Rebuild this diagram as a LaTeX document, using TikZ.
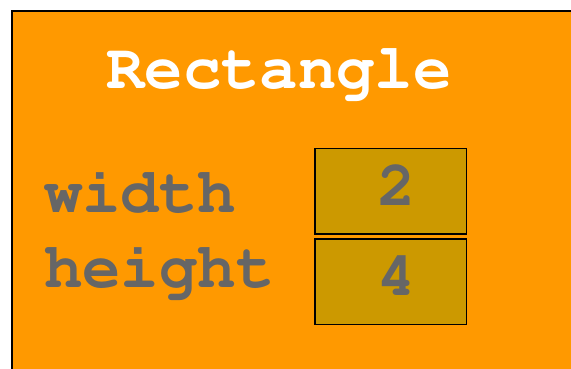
\documentclass[tikz,border=0pt]{standalone}
\usepackage[T1]{fontenc}
\usepackage{fontspec}
\newcommand\crbf{\fontencoding{T1}\fontfamily{pcr}\fontseries{b}\fontshape{n}\fontsize{64}{64}\selectfont}
\definecolor{bgorange}{HTML}{FF9900}
\definecolor{boxgold}{HTML}{CC9900}
\definecolor{txtgray}{HTML}{666666}
\begin{document}
\begin{tikzpicture}[x=1pt,y=-1pt,
  lbl/.style={font=\crbf, inner sep=0pt, anchor=base west},
  valbox/.style={draw=black, line width=1.5pt, fill=boxgold, minimum width=151.5pt, minimum height=85.5pt, inner sep=0pt, anchor=north west},
  valtxt/.style={font=\crbf, inner sep=0pt, anchor=base, text=txtgray}]
\useasboundingbox (0,0) rectangle (571,368);
\clip (0,0) rectangle (571,368);
\draw[line width=2pt, fill=bgorange] (12,11) rectangle (600,400);
\node[lbl, text=white] (title) at (106,88.7) {Rectangle};
\node[lbl, text=txtgray] (wlbl) at (44,212.7) {width};
\node[lbl, text=txtgray] (hlbl) at (44,287.5) {height};
\node[valbox] (wbox) at (314,147.5) {};
\node[valbox] (hbox) at (314,238) {};
\node[valtxt] (wval) at (396.7,205.7) {2};
\node[valtxt] (hval) at (396.7,295.7) {4};
\end{tikzpicture}
\end{document}
